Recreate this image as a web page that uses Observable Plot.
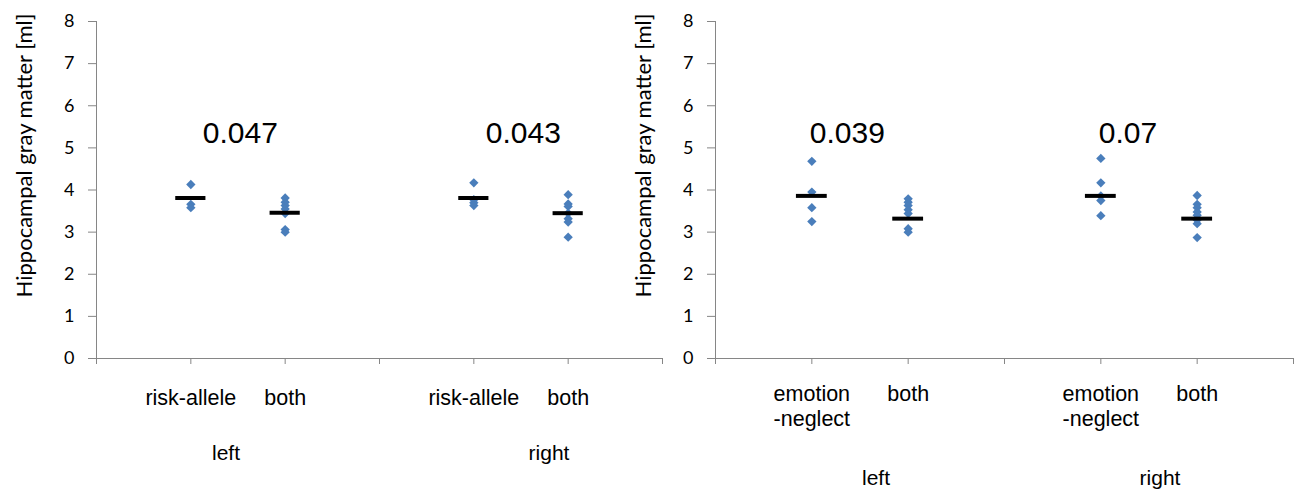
<!DOCTYPE html>
<html><head><meta charset="utf-8">
<script src="https://cdn.jsdelivr.net/npm/d3@7"></script>
<script src="https://cdn.jsdelivr.net/npm/@observablehq/plot@0.6"></script>
<style>
html,body{margin:0;padding:0;background:#fff;}
#wrap{position:relative;width:1309px;height:496px;overflow:hidden;background:#fff;}
#wrap svg{position:absolute;top:0;}
</style></head><body><div id="wrap"></div>
<script>
// ---- data ----
const yTitle = "Hippocampal gray matter [ml]";
const yTicks = [0, 1, 2, 3, 4, 5, 6, 7, 8];
const groupNames = ["left", "right"];

const chart1Categories = ["risk-allele", "both", "risk-allele", "both"];
const chart1Values = [
  [4.13, 3.66, 3.58],
  [3.81, 3.71, 3.63, 3.55, 3.44, 3.06, 3.00],
  [4.17, 3.77, 3.70, 3.63],
  [3.89, 3.67, 3.61, 3.45, 3.32, 3.24, 2.88]
];
const chart1Means = [3.81, 3.46, 3.81, 3.45];
const chart1PValues = ["0.047", "0.043"];

const chart2Categories = ["emotion\n-neglect", "both", "emotion\n-neglect", "both"];
const chart2Values = [
  [4.68, 3.95, 3.58, 3.25],
  [3.79, 3.71, 3.63, 3.53, 3.44, 3.08, 3.00],
  [4.75, 4.17, 3.86, 3.75, 3.39],
  [3.87, 3.66, 3.58, 3.48, 3.40, 3.29, 3.20, 2.87]
];
const chart2Means = [3.86, 3.32, 3.86, 3.32];
const chart2PValues = ["0.039", "0.07"];

// ---- styles ----
const gray = "#868686";
const blue = "#4a7ebb";
const posOf = i => 1 + 3 * Math.floor(i / 2) + (i % 2);

function makeChart(cfg) {
  const rows = cfg.values.flatMap((vals, i) => vals.map(v => ({pos: posOf(i), value: v})));
  const meanRows = cfg.means.map((m, i) => ({pos: posOf(i), mean: m}));
  const labelMap = new Map(cfg.categories.map((c, i) => [posOf(i), c]));
  const pRows = cfg.pvalues.map((p, g) => ({pos: posOf(2 * g), p}));
  const groupMarks = groupNames.map((n, g) =>
    Plot.text([{pos: posOf(2 * g) + 0.5, n}], {x: "pos", text: "n", frameAnchor: "bottom", lineAnchor: "bottom",
      dy: cfg.groupDy, dx: cfg.groupDx[g], fontSize: 21, fill: "black"}));
  return Plot.plot({
    width: cfg.width,
    height: 496,
    marginLeft: cfg.marginLeft,
    marginRight: cfg.marginRight,
    marginTop: 21,
    marginBottom: 138,
    style: {background: "transparent", fontFamily: "Liberation Sans, Arial, sans-serif", overflow: "visible"},
    x: {domain: [0, 6]},
    y: {domain: [0, 8]},
    marks: [
      Plot.ruleY([0], {stroke: gray}),
      Plot.ruleX([0], {stroke: gray}),
      Plot.axisY({ticks: yTicks, tickSize: 8, tickPadding: 14, stroke: gray, fill: "black",
        fontSize: 18, fontFamily: "Lato", label: null}),
      Plot.axisX({ticks: d3.range(7), tickSize: 6, tickPadding: cfg.tickPadding, stroke: gray, fill: "black",
        tickFormat: d => labelMap.get(d) ?? "", fontSize: 21.5, lineHeight: 1.15, label: null}),
      Plot.dot(rows, {x: "pos", y: "value", symbol: "diamond2", r: 4.2, fill: blue}),
      Plot.ruleY(meanRows, {y: "mean", x1: d => d.pos - 0.16, x2: d => d.pos + 0.16, stroke: "black", strokeWidth: 4}),
      Plot.text(pRows, {x: "pos", text: "p", frameAnchor: "top", lineAnchor: "bottom", dy: 121,
        dx: cfg.pDx, textAnchor: "start", fontSize: 30, fill: "black"}),
      ...groupMarks,
      Plot.text([yTitle], {frameAnchor: "left", rotate: -90, lineAnchor: "bottom", textAnchor: "middle",
        dx: -65, dy: -34.5, fontSize: 22, fontFamily: "Lato", fill: "black"})
    ]
  });
}

const wrap = document.getElementById("wrap");
const c1 = makeChart({categories: chart1Categories, values: chart1Values, means: chart1Means, pvalues: chart1PValues,
  width: 662, marginLeft: 96, marginRight: 0, tickPadding: 23, groupDy: 101, groupDx: [-12, 28], pDx: 12});
c1.style.left = "0px";
wrap.appendChild(c1);
const c2 = makeChart({categories: chart2Categories, values: chart2Values, means: chart2Means, pvalues: chart2PValues,
  width: 709, marginLeft: 115, marginRight: 16, tickPadding: 19, groupDy: 126, groupDx: [16, 11], pDx: -2});
c2.style.left = "600px";
wrap.appendChild(c2);
</script></body></html>
